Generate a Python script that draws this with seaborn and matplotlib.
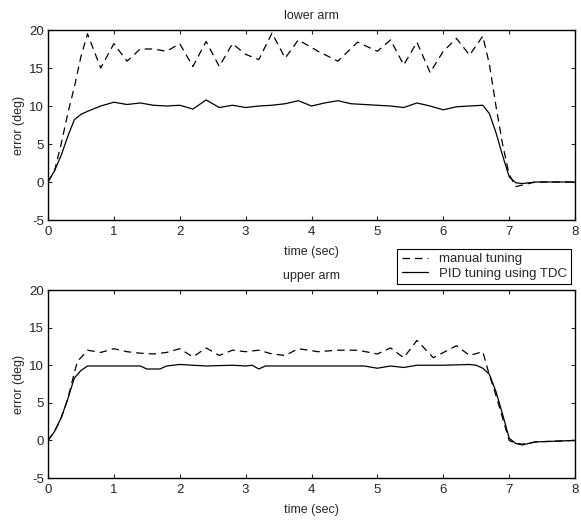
import matplotlib
matplotlib.use("Agg")
import matplotlib.pyplot as plt
import seaborn as sns

# lower arm, manual tuning (dashed)
lower_manual_t = [0, 0.1, 0.2, 0.3, 0.4, 0.5, 0.6, 0.8, 1.0, 1.2, 1.4, 1.6, 1.8,
                  2.0, 2.2, 2.4, 2.6, 2.8, 3.0, 3.2, 3.4, 3.6, 3.8, 4.1, 4.4, 4.7,
                  5.0, 5.2, 5.4, 5.6, 5.8, 6.0, 6.2, 6.4, 6.6, 6.7, 6.8, 6.9, 7.0,
                  7.1, 7.2, 7.4, 8.0]
lower_manual_v = [0, 1.5, 5.0, 9.0, 12.5, 16.5, 19.5, 15.0, 18.2, 15.9, 17.5, 17.5, 17.2,
                  18.2, 15.2, 18.5, 15.2, 18.2, 16.8, 16.1, 19.6, 16.3, 18.7, 17.2, 15.9, 18.4,
                  17.2, 18.7, 15.4, 18.4, 14.4, 17.2, 18.9, 16.7, 19.2, 15.5, 10.0, 5.0, 1.0,
                  -0.6, -0.4, 0.0, 0.0]

# lower arm, PID tuning using TDC (solid)
lower_pid_t = [0, 0.1, 0.2, 0.3, 0.4, 0.5, 0.6, 0.8, 1.0, 1.2, 1.4, 1.6, 1.8,
               2.0, 2.2, 2.4, 2.6, 2.8, 3.0, 3.2, 3.4, 3.6, 3.8, 4.0, 4.2, 4.4,
               4.6, 4.8, 5.0, 5.2, 5.4, 5.6, 5.8, 6.0, 6.2, 6.4, 6.6, 6.7, 6.8,
               6.9, 7.0, 7.1, 7.2, 7.4, 8.0]
lower_pid_v = [0, 1.5, 3.5, 6.0, 8.2, 8.9, 9.3, 10.0, 10.5, 10.2, 10.4, 10.1, 10.0,
               10.1, 9.6, 10.8, 9.8, 10.1, 9.8, 10.0, 10.1, 10.3, 10.7, 10.0, 10.4, 10.7,
               10.3, 10.2, 10.1, 10.0, 9.8, 10.4, 10.0, 9.5, 9.9, 10.0, 10.1, 9.0, 6.5,
               3.5, 0.7, -0.1, -0.2, 0.0, 0.0]

# upper arm, manual tuning (dashed)
upper_manual_t = [0, 0.1, 0.2, 0.3, 0.4, 0.45, 0.5, 0.6, 0.8, 1.0, 1.2, 1.4, 1.6, 1.8,
                  2.0, 2.2, 2.4, 2.6, 2.8, 3.0, 3.2, 3.4, 3.6, 3.8, 4.1, 4.4, 4.7,
                  5.0, 5.2, 5.4, 5.6, 5.85, 6.2, 6.4, 6.6, 6.7, 6.8, 6.9, 7.0, 7.1,
                  7.2, 7.4, 8.0]
upper_manual_v = [0, 1.2, 3.0, 5.5, 9.0, 10.6, 11.0, 12.0, 11.7, 12.2, 11.8, 11.6, 11.5, 11.7,
                  12.2, 11.1, 12.3, 11.3, 12.0, 11.8, 12.0, 11.5, 11.3, 12.2, 11.8, 12.0, 12.0,
                  11.5, 12.3, 11.0, 13.3, 11.0, 12.6, 11.3, 11.8, 8.7, 6.0, 3.0, 0.0, -0.4,
                  -0.5, -0.2, 0.0]

# upper arm, PID tuning using TDC (solid)
upper_pid_t = [0, 0.1, 0.2, 0.3, 0.4, 0.5, 0.6, 1.0, 1.4, 1.5, 1.7, 1.8, 2.0, 2.4,
               2.8, 3.0, 3.1, 3.2, 3.3, 3.6, 4.0, 4.8, 5.0, 5.2, 5.4, 5.6, 6.0,
               6.4, 6.5, 6.6, 6.7, 6.8, 6.9, 7.0, 7.1, 7.2, 7.4, 8.0]
upper_pid_v = [0, 1.2, 3.0, 5.5, 8.3, 9.3, 9.9, 9.9, 9.9, 9.5, 9.5, 9.9, 10.1, 9.9,
               10.0, 9.9, 10.0, 9.5, 9.9, 9.9, 9.9, 9.9, 9.6, 9.9, 9.7, 10.0, 10.0,
               10.1, 10.0, 9.6, 8.8, 6.5, 3.5, 0.3, -0.4, -0.6, -0.2, 0.0]

x_ticks = [0, 1, 2, 3, 4, 5, 6, 7, 8]
y_ticks = [-5, 0, 5, 10, 15, 20]

sns.set_style("ticks")
plt.rcParams['font.family'] = ['Liberation Sans', 'DejaVu Sans']
plt.rcParams['axes.unicode_minus'] = False

fig = plt.figure(figsize=(5.81, 5.21), dpi=100)
ax_top = fig.add_axes([0.0826, 0.5777, 0.9071, 0.3647])
ax_bot = fig.add_axes([0.0826, 0.0825, 0.9071, 0.3608])

panels = [
    (ax_top, "lower arm", lower_manual_t, lower_manual_v, lower_pid_t, lower_pid_v),
    (ax_bot, "upper arm", upper_manual_t, upper_manual_v, upper_pid_t, upper_pid_v),
]

for ax, title, mt, mv, pt, pv in panels:
    sns.lineplot(x=mt, y=mv, ax=ax, color="black", linewidth=0.9,
                 linestyle=(0, (6, 4)), label="manual tuning")
    sns.lineplot(x=pt, y=pv, ax=ax, color="black", linewidth=0.9,
                 label="PID tuning using TDC")
    ax.set_xlim(0, 8)
    ax.set_ylim(-5, 20)
    ax.set_xticks(x_ticks)
    ax.set_yticks(y_ticks)
    ax.tick_params(direction="in", top=True, right=True, length=3,
                   width=0.8, labelsize=9.5)
    ax.tick_params(axis="x", pad=4)
    ax.tick_params(axis="y", pad=3)
    for s in ax.spines.values():
        s.set_linewidth(1.0)
        s.set_color("black")
    ax.set_title(title, fontsize=9, pad=8)
    ax.set_xlabel("time (sec)", fontsize=9, labelpad=6)
    ax.set_ylabel("error (deg)", fontsize=9, labelpad=3)
    ax.get_legend().remove()

leg = ax_top.legend(loc="upper right", bbox_to_anchor=(578 / 581, 1 - 242 / 521),
                    bbox_transform=fig.transFigure, frameon=True, fancybox=False,
                    framealpha=1, edgecolor="black", fontsize=9.5,
                    handlelength=2.0, handletextpad=0.8, borderpad=0.35,
                    labelspacing=0.15)
leg.get_frame().set_linewidth(0.8)

fig.savefig("out.png", dpi=100)
